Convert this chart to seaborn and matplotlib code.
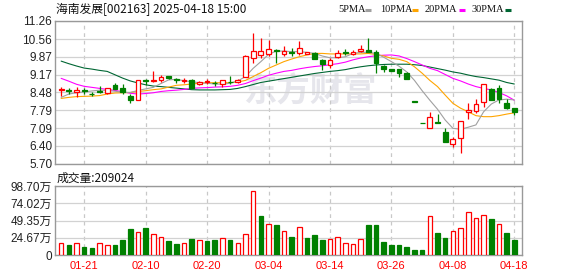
import numpy as np
import pandas as pd
import matplotlib
matplotlib.use("Agg")
import matplotlib.pyplot as plt
from matplotlib.lines import Line2D
import seaborn as sns

# ---------------- data ----------------
dates = ["01-16", "01-17", "01-20", "01-21", "01-22", "01-23", "01-24", "01-27",
         "02-05", "02-06", "02-07", "02-10", "02-11", "02-12", "02-13", "02-14",
         "02-17", "02-18", "02-19", "02-20", "02-21", "02-24", "02-25", "02-26",
         "02-27", "02-28", "03-03", "03-04", "03-05", "03-06", "03-07", "03-10",
         "03-11", "03-12", "03-13", "03-14", "03-17", "03-18", "03-19", "03-20",
         "03-21", "03-24", "03-25", "03-26", "03-27", "03-28", "03-31", "04-01",
         "04-02", "04-03", "04-07", "04-08", "04-09", "04-10", "04-11", "04-14",
         "04-15", "04-16", "04-17", "04-18"]

opens = [8.59, 8.56, 8.51, 8.57, 8.42, 8.55, 8.45, 8.77, 8.67, 8.36,
         8.18, 8.98, 8.93, 8.98, 9.11, 8.99, 8.94, 8.97, 8.81, 8.88,
         8.86, 8.82, 8.90, 8.89, 9.09, 9.81, 9.93, 9.96, 10.13, 9.97,
         10.05, 10.00, 9.99, 10.00, 9.74, 9.55, 9.87, 10.05, 9.98, 10.10,
         10.13, 10.04, 9.52, 9.39, 9.38, 9.25, 8.13, 7.29, 7.09, 7.32,
         6.94, 6.47, 6.70, 7.72, 7.77, 8.10, 8.62, 8.64, 8.07, 7.88]
highs = [8.68, 8.64, 8.68, 8.65, 8.49, 8.73, 8.67, 8.85, 8.81, 8.41,
         8.97, 9.02, 9.33, 9.16, 9.12, 9.04, 9.06, 9.02, 8.93, 8.99,
         8.94, 8.98, 9.12, 9.00, 9.92, 10.80, 10.59, 10.52, 10.16, 10.29,
         10.20, 10.48, 10.06, 10.06, 9.77, 9.81, 10.13, 10.16, 10.13, 10.33,
         10.59, 10.13, 9.55, 9.40, 9.38, 9.29, 8.13, 7.29, 7.71, 7.63,
         7.09, 6.74, 7.38, 8.06, 8.23, 8.80, 8.64, 8.77, 8.22, 7.88]
lows = [8.35, 8.41, 8.32, 8.42, 8.36, 8.46, 8.43, 8.61, 8.43, 8.08,
        8.18, 8.76, 8.89, 8.90, 9.02, 8.86, 8.84, 8.66, 8.77, 8.81,
        8.75, 8.69, 8.80, 8.86, 9.07, 9.62, 9.81, 9.90, 9.62, 9.90,
        9.91, 9.93, 9.98, 9.77, 9.35, 9.45, 9.81, 9.94, 9.95, 10.04,
        10.05, 9.23, 9.29, 9.32, 9.10, 9.02, 8.12, 7.28, 7.09, 7.28,
        6.57, 6.37, 6.14, 7.45, 7.70, 7.93, 8.19, 8.08, 7.83, 7.61]
closes = [8.60, 8.55, 8.57, 8.52, 8.41, 8.48, 8.64, 8.62, 8.49, 8.19,
          8.95, 8.92, 8.95, 9.09, 9.06, 8.95, 8.96, 8.67, 8.89, 8.93,
          8.84, 8.95, 8.88, 8.97, 9.90, 10.10, 10.08, 10.16, 10.10, 10.09,
          10.03, 10.22, 10.04, 9.77, 9.58, 9.74, 10.00, 10.03, 10.05, 10.16,
          10.06, 9.64, 9.38, 9.33, 9.25, 9.02, 8.12, 7.28, 7.54, 7.30,
          6.57, 6.67, 7.37, 7.80, 8.02, 8.80, 8.19, 8.23, 7.88, 7.72]

ma5 = [8.29, 8.42, 8.47, 8.50, 8.54, 8.57, 8.56, 8.53, 8.49, 8.48,
       8.56, 8.62, 8.68, 8.83, 8.97, 8.99, 8.94, 8.90, 8.86, 8.84,
       8.81, 8.80, 8.84, 8.93, 9.10, 9.42, 9.68, 9.96, 10.09, 10.09,
       10.07, 10.07, 10.04, 10.00, 9.90, 9.83, 9.83, 9.87, 10.00, 10.04,
       10.04, 10.00, 9.85, 9.68, 9.50, 9.28, 8.95, 8.55, 8.18, 7.83,
       7.41, 7.09, 7.05, 7.13, 7.22, 7.73, 8.03, 8.19, 8.22, 8.19]
ma10 = [8.25, 8.29, 8.32, 8.33, 8.34, 8.36, 8.42, 8.46, 8.47, 8.48,
        8.52, 8.55, 8.59, 8.62, 8.69, 8.76, 8.78, 8.81, 8.84, 8.86,
        8.86, 8.86, 8.86, 8.89, 8.95, 9.10, 9.25, 9.42, 9.55, 9.68,
        9.78, 9.87, 9.94, 10.00, 10.00, 9.98, 9.98, 9.98, 9.98, 9.98,
        10.00, 9.96, 9.90, 9.81, 9.77, 9.68, 9.48, 9.23, 8.95, 8.71,
        8.38, 8.06, 7.87, 7.73, 7.58, 7.54, 7.54, 7.58, 7.64, 7.69]
ma20 = [9.03, 8.92, 8.80, 8.72, 8.68, 8.64, 8.60, 8.56, 8.51, 8.45,
        8.42, 8.44, 8.47, 8.52, 8.55, 8.57, 8.60, 8.64, 8.66, 8.67,
        8.69, 8.70, 8.72, 8.76, 8.83, 8.94, 9.04, 9.15, 9.23, 9.30,
        9.34, 9.40, 9.45, 9.49, 9.52, 9.56, 9.60, 9.66, 9.75, 9.82,
        9.87, 9.91, 9.93, 9.94, 9.90, 9.80, 9.68, 9.55, 9.42, 9.33,
        9.18, 9.03, 8.93, 8.81, 8.71, 8.64, 8.58, 8.48, 8.35, 8.18]
ma30 = [9.70, 9.60, 9.51, 9.43, 9.39, 9.34, 9.30, 9.17, 9.04, 8.93,
        8.85, 8.78, 8.73, 8.71, 8.68, 8.65, 8.62, 8.59, 8.58, 8.58,
        8.58, 8.59, 8.60, 8.64, 8.71, 8.79, 8.87, 8.92, 8.97, 9.02,
        9.07, 9.12, 9.17, 9.22, 9.26, 9.30, 9.33, 9.37, 9.43, 9.48,
        9.52, 9.55, 9.57, 9.58, 9.58, 9.58, 9.56, 9.53, 9.47, 9.41,
        9.35, 9.28, 9.23, 9.16, 9.10, 9.06, 9.01, 8.96, 8.87, 8.81]

volume = [16.7, 13.8, 16.7, 11.0, 9.5, 16.7, 13.8, 13.8, 21.0, 36.7,
          32.4, 38.1, 29.6, 25.3, 19.6, 15.7, 16.7, 22.4, 21.0, 19.6,
          21.0, 23.8, 21.0, 16.7, 29.6, 91.1, 55.8, 43.9, 42.9, 33.9,
          25.3, 39.6, 23.8, 28.6, 21.5, 22.4, 26.2, 16.7, 15.3, 22.4,
          42.9, 42.9, 18.6, 14.3, 14.3, 11.0, 7.2, 7.2, 55.8, 31.5,
          24.3, 34.3, 38.1, 61.0, 52.4, 56.7, 51.5, 44.3, 31.5, 20.9]
vol_up = "RGRGGRRGGGRGRRGGRGRGGRGRRRGRGRGRGGGRRRRRGGGGGGGGRGGRRRRRGRGG"

price_ticks = [5.70, 6.40, 7.09, 7.79, 8.48, 9.17, 9.87, 10.56, 11.26]
vol_ticks = [0, 24.67, 49.35, 74.02, 98.70]
vol_tick_labels = ["0", "24.67万", "49.35万", "74.02万", "98.70万"]
label_dates = ["01-21", "02-10", "02-20", "03-04", "03-14", "03-26", "04-08", "04-18"]
title = "海南发展[002163] 2025-04-18 15:00"
vol_title = "成交量:209024"
legend_names = ["5PMA", "10PMA", "20PMA", "30PMA"]

# ---------------- style ----------------
RED = "#ff0000"
GREEN = "#008000"
MA_COLORS = ["#a0a0a0", "#ffa500", "#ff00ff", "#006633"]

sns.set_theme(style="white")
plt.rcParams['font.family'] = ['Liberation Sans', 'Noto Sans CJK SC', 'DejaVu Sans']

W, H = 578, 276
fig = plt.figure(figsize=(W / 100, H / 100), dpi=100)
fig.patch.set_facecolor("white")
ax1 = fig.add_axes([55 / W, 1 - 164 / H, 467 / W, 143 / H])
ax2 = fig.add_axes([55 / W, 1 - 255 / H, 467 / W, 69 / H])

n = len(dates)
idx = np.arange(n)
df = pd.DataFrame({"idx": idx, "date": dates, "open": opens, "high": highs,
                   "low": lows, "close": closes, "ma5": ma5, "ma10": ma10,
                   "ma20": ma20, "ma30": ma30, "volume": volume,
                   "vup": list(vol_up)})

o = df["open"].to_numpy()
c = df["close"].to_numpy()
up = c >= o
edge = np.where(up, RED, GREEN)
face = np.where(up, "white", GREEN)

# watermark
ax1.text(0.545, 0.50, "东方财富", transform=ax1.transAxes, fontsize=24,
         color="#e6e6ec", ha="center", va="center",
         family=["Noto Sans CJK SC"], fontweight="bold", zorder=0)

# moving averages via seaborn
for col, color in zip(["ma30", "ma20", "ma10", "ma5"], MA_COLORS[::-1]):
    sns.lineplot(data=df, x="idx", y=col, ax=ax1, color=color, lw=0.8,
                 zorder=2, legend=False)

# candles
ax1.vlines(idx, df["low"], df["high"], colors=edge, lw=0.9, zorder=3)
bottom = np.minimum(o, c)
height = np.maximum(np.abs(c - o), 0.012)
ax1.bar(idx, height, bottom=bottom, width=0.62, color=face, edgecolor=edge,
        linewidth=0.9, zorder=4)

# volume
vup = df["vup"].to_numpy() == "R"
ax2.bar(idx, df["volume"], width=0.6, color=np.where(vup, "white", GREEN),
        edgecolor=np.where(vup, RED, GREEN), linewidth=0.9, zorder=3)

tick_pos = [dates.index(d) for d in label_dates]
for ax in (ax1, ax2):
    ax.set_xlim(-0.8, 60.0)
    ax.set_xticks(tick_pos)
    ax.set_axisbelow(True)
    ax.grid(False)
    ax.yaxis.grid(True, color="#d2d2d2", lw=0.9)
    ax.xaxis.grid(True, color="#c8c8c8", lw=0.9, linestyle=(0, (3, 3)))
    ax.set_xlabel("")
    ax.set_ylabel("")
    for s in ax.spines.values():
        s.set_color("#999999")
        s.set_linewidth(1.0)
    ax.tick_params(axis="both", length=0, pad=2, labelsize=8.5,
                   labelcolor="#222222")

ax1.set_ylim(5.70, 11.26)
ax1.set_yticks(price_ticks)
ax1.set_yticklabels([f"{v:.2f}" for v in price_ticks])
ax1.set_xticklabels([])

ax2.set_ylim(0, 98.70)
ax2.set_yticks(vol_ticks)
ax2.set_yticklabels(vol_tick_labels)
ax2.set_xticklabels(label_dates, color=RED, fontsize=8)
ax2.tick_params(axis="x", pad=4)

# titles
fig.text(56 / W, 1 - 9 / H, title, fontsize=8.5, va="center", ha="left",
         color="#111111", family=["Noto Sans CJK SC", "DejaVu Sans"])
fig.text(57 / W, 1 - 178 / H, vol_title, fontsize=8.5, va="center",
         ha="left", color="#111111", family=["Noto Sans CJK SC", "DejaVu Sans"])

# legend
leg_text_x = [338, 380, 425, 471]
leg_dash_x = [365, 412, 459, 505]
for name, tx, dx, color in zip(legend_names, leg_text_x, leg_dash_x, MA_COLORS):
    fig.text(tx / W, 1 - 9 / H, name, fontsize=7.5, va="center", ha="left",
             color="#111111", family=["Liberation Serif"])
    fig.add_artist(Line2D([dx / W, (dx + 6) / W], [1 - 10 / H, 1 - 10 / H],
                          transform=fig.transFigure, color=color, lw=2.2,
                          solid_capstyle="butt"))

fig.savefig("out.png", dpi=100, facecolor="white")
